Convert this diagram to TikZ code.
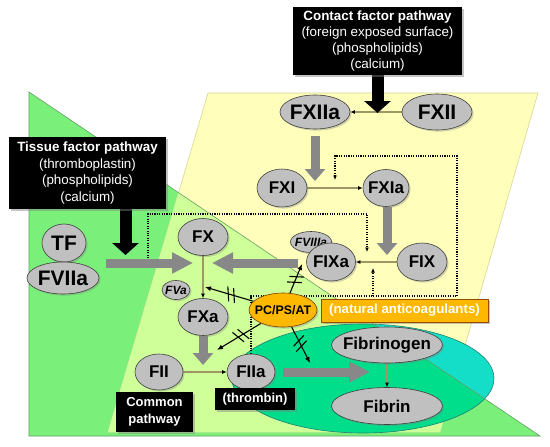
\documentclass[tikz,border=0pt]{standalone}
\usepackage{fontspec}
\setmainfont{Liberation Sans}
\usetikzlibrary{shapes.geometric,shadows,arrows.meta,calc,decorations.markings}
\pgfdeclarelayer{bg}
\pgfdeclarelayer{edges}
\pgfsetlayers{bg,edges,main}
\newcommand\zbx[1]{\makebox[0pt]{#1}}
\definecolor{bggreen}{RGB}{122,240,122}
\definecolor{bgyellow}{RGB}{255,255,187}
\definecolor{bglight}{RGB}{206,255,153}
\definecolor{tealA}{RGB}{20,222,200}
\definecolor{tealB}{RGB}{0,222,140}
\definecolor{tealline}{RGB}{40,130,110}
\definecolor{greenline}{RGB}{100,160,100}
\definecolor{yellowline}{RGB}{215,215,150}
\definecolor{factgray}{RGB}{192,192,192}
\definecolor{fatgray}{RGB}{136,136,136}
\definecolor{thinline}{RGB}{160,150,100}
\definecolor{pcorange}{RGB}{255,184,0}
\begin{document}
\begin{tikzpicture}[x=1pt,y=-1pt,
  factor/.style={ellipse, fill=factgray, draw=gray!50!black, line width=0.6pt, inner sep=0pt,
    drop shadow={shadow xshift=1.6pt, shadow yshift=-1.6pt, opacity=.35},
    font=\bfseries\fontsize{17}{19}\selectfont},
  big/.style={font=\bfseries\fontsize{21}{23}\selectfont},
  cof/.style={font=\bfseries\itshape\fontsize{12}{13}\selectfont},
  blackbox/.style={rectangle, fill=black, text=white, inner sep=0pt, align=center,
    drop shadow={shadow xshift=2pt, shadow yshift=-2pt, opacity=.45}},
  thinarr/.style={draw=thinline, line width=1.1pt, -{Latex[length=4.5pt,width=4pt,color=black]}},
  dotarr/.style={draw=black, line width=1.1pt, dash pattern=on 1.1pt off 1.3pt, -{Latex[length=4.5pt,width=4pt]}},
  fatv/.style={draw=fatgray, line width=9pt, -{Triangle[length=12pt,width=20pt]}},
  fath/.style={draw=fatgray, line width=9pt, -{Triangle[length=21pt,width=20pt]}},
  blackarr/.style={draw=black, line width=12pt, -{Triangle[length=12pt,width=26pt]}},
  inhib/.style={draw=black, line width=1.1pt, -{Latex[length=6pt,width=5pt]},
    postaction={decorate},
    decoration={markings, mark=at position 0.45 with {\draw[line width=1.1pt,-] (-5,-7) -- (0,7) (1,-7) -- (6,7);}}}
]
\useasboundingbox (0,0) rectangle (550,447);

% ---------- background ----------
\begin{pgfonlayer}{bg}
\fill[white] (0,0) rectangle (550,447);
\fill[bggreen] (29,92) -- (540,436) -- (29,436) -- cycle;
\filldraw[fill=bgyellow, draw=yellowline, line width=0.6pt]
  (208,93) -- (538,93) -- (440,432) -- (108,432) -- cycle;
\begin{scope}
  \clip (29,92) -- (540,436) -- (29,436) -- cycle;
  \fill[bglight] (208,93) -- (538,93) -- (440,432) -- (108,432) -- cycle;
\end{scope}
\fill[tealA] (363,378.5) ellipse [x radius=131, y radius=54.5];
\begin{scope}
  \clip (29,92) -- (540,436) -- (29,436) -- cycle;
  \fill[tealB] (363,378.5) ellipse [x radius=131, y radius=54.5];
\end{scope}
\draw[tealline, line width=0.6pt] (363,378.5) ellipse [x radius=131, y radius=54.5];
\draw[greenline, line width=0.6pt] (29,92) -- (540,436) -- (29,436) -- cycle;
\end{pgfonlayer}

% ---------- boxes ----------
\node[blackbox, minimum width=169pt, minimum height=68pt, font=\fontsize{13.4}{15.7}\selectfont] (Contact) at (377.5,41)
  {\textbf{Contact factor pathway}\\(foreign exposed surface)\\(phospholipids)\\(calcium)};
\node[blackbox, minimum width=157pt, minimum height=72pt, font=\fontsize{13.4}{16.4}\selectfont] (Tissue) at (87.5,173)
  {\textbf{Tissue factor pathway}\\(thromboplastin)\\(phospholipids)\\(calcium)};

% ---------- factors ----------
\node[factor,big,minimum width=70pt,minimum height=34pt] (FXIIa) at (315,112) {\zbx{FXIIa}};
\node[factor,big,minimum width=70pt,minimum height=36pt] (FXII) at (437,112) {\zbx{FXII}};
\node[factor,minimum width=50pt,minimum height=38pt] (FXI) at (282,188) {\zbx{FXI}};
\node[factor,minimum width=46pt,minimum height=37pt] (FXIa) at (386,188) {\zbx{FXIa}};
\node[factor,cof,minimum width=41pt,minimum height=21pt] (FVIIIa) at (311,242) {\zbx{FVIIIa}};
\node[factor,minimum width=49pt,minimum height=38pt] (FIXa) at (331,262) {\zbx{FIXa}};
\node[factor,minimum width=50pt,minimum height=38pt] (FIX) at (422,262) {\zbx{FIX}};
\node[factor,minimum width=50pt,minimum height=37pt] (FX) at (203,237) {\zbx{FX}};
\node[factor,big,minimum width=44pt,minimum height=38pt] (TF) at (64,243) {\zbx{TF}};
\node[factor,big,minimum width=72pt,minimum height=32pt] (FVIIa) at (63,278) {\zbx{FVIIa}};
\node[factor,cof,minimum width=28pt,minimum height=19pt] (FVa) at (176,290) {\zbx{FVa}};
\node[factor,minimum width=50pt,minimum height=37pt] (FXa) at (203,317) {\zbx{FXa}};
\node[factor,minimum width=48pt,minimum height=36pt] (FII) at (159,372) {\zbx{FII}};
\node[factor,minimum width=48pt,minimum height=36pt] (FIIa) at (251,372) {\zbx{FIIa}};
\node[factor,minimum width=111pt,minimum height=36pt] (Fibrinogen) at (387,345) {\zbx{Fibrinogen}};
\node[factor,minimum width=111pt,minimum height=37pt] (Fibrin) at (387,406) {\zbx{Fibrin}};

\node[ellipse, fill=pcorange, draw=orange!50!black, line width=0.6pt, inner sep=0pt,
  minimum width=68pt, minimum height=34pt, font=\bfseries\fontsize{12.4}{14}\selectfont,
  drop shadow={shadow xshift=1.6pt, shadow yshift=-1.6pt, opacity=.35}] (PC) at (283,310) {\zbx{PC/PS/AT}};
\node[rectangle, fill=pcorange, draw=orange!60!black, line width=0.6pt, inner sep=0pt,
  minimum width=167pt, minimum height=23pt, text=white, font=\bfseries\fontsize{13.3}{15}\selectfont,
  drop shadow={shadow xshift=2pt, shadow yshift=-2pt, opacity=.45}] (NA) at (404.5,310.5) {(natural anticoagulants)};

\node[blackbox, minimum width=77pt, minimum height=40pt, font=\bfseries\fontsize{13}{17}\selectfont] (Common) at (154.5,412) {Common\\pathway};
\node[blackbox, minimum width=80pt, minimum height=22pt, font=\bfseries\fontsize{13}{15}\selectfont] (Thrombin) at (255,399) {(thrombin)};

% ---------- connectors ----------
\begin{pgfonlayer}{edges}
% dotted feedback lines
\coordinate (dA) at (457,296);
\coordinate (dB) at (457,156);
\coordinate (dC) at (335,156);
\coordinate (dD) at (335,180);
\draw[dotarr] (FIIa.north) |- (dA) -- (dB) -- (dC) -- (dD);
\coordinate (dE) at (373,296);
\coordinate (dF) at (373,268);
\draw[dotarr] (dE) -- (dF);
\coordinate (dG) at (148,258);
\coordinate (dH) at (148,214);
\coordinate (dI) at (367,214);
\coordinate (dJ) at (367,252);
\draw[dotarr] (dG) -- (dH) -- (dI) -- (dJ);

% thin activation arrows
\draw[thinarr] (FXII) -- (FXIIa);
\draw[thinarr] (FXI) -- (FXIa);
\draw[thinarr] (FIX) -- (FIXa);
\draw[thinarr] (FX) -- (FXa);
\draw[thinarr] (FII) -- (FIIa);
\draw[thinarr] (Fibrinogen) -- (Fibrin);

% fat gray arrows
\coordinate (tXI) at (315,181);
\draw[fatv] ($(FXIIa.south)+(0,7)$) -- (tXI);
\coordinate (tIX) at (387,255);
\draw[fatv] ($(FXIa.south)+(1,0)$) -- (tIX);
\coordinate (sTF) at (106,263);
\coordinate (tFXa) at (193,263);
\draw[fath] (sTF) -- (tFXa);
\coordinate (tFXb) at (212,263);
\draw[fath] ($(FIXa.west)+(-8,1)$) -- (tFXb);
\coordinate (tII) at (203,365);
\draw[fatv] (FXa.south) -- (tII);
\coordinate (tFb) at (370,372);
\draw[fath] ($(FIIa.east)+(8,0)$) -- (tFb);

% black pathway arrows
\coordinate (cTip) at (377.5,113);
\draw[blackarr] (Contact.south) -- (cTip);
\coordinate (tTip) at (125.5,255);
\draw[blackarr] (Tissue.south -| tTip) -- (tTip);

% inhibition arrows
\coordinate (i1) at (205,287);
\coordinate (i2) at (302,264);
\coordinate (i3) at (217,350);
\coordinate (i4) at (310,363);
\draw[inhib] (PC) -- (i1);
\draw[inhib] (PC) -- (i2);
\draw[inhib] (PC) -- (i3);
\draw[inhib] (PC) -- (i4);
\end{pgfonlayer}
\end{tikzpicture}
\end{document}
